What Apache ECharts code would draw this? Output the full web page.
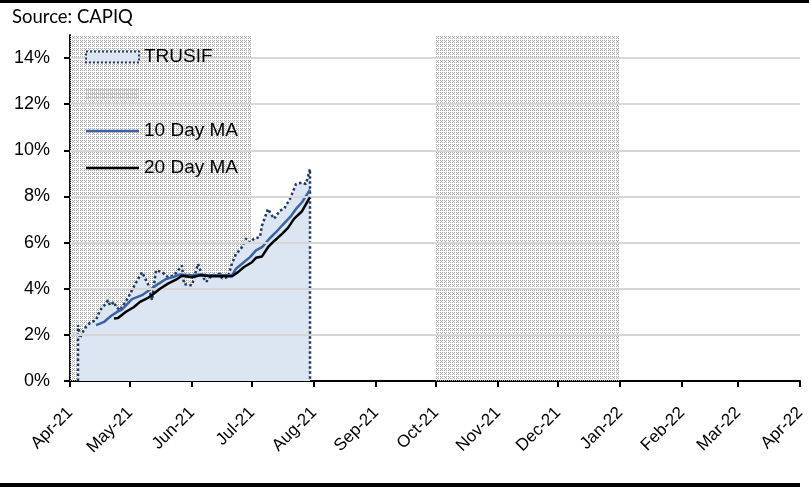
<!DOCTYPE html>
<html>
<head>
<meta charset="utf-8">
<script src="https://cdn.jsdelivr.net/npm/echarts@6/dist/echarts.min.js"></script>
<style>
html,body{margin:0;padding:0;background:#fff;}
#chart{width:809px;height:487px;}
</style>
</head>
<body>
<div id="chart"></div>
<script>
// ---- data ----
const trusifDates = ['2021-04-05','2021-04-06','2021-04-07','2021-04-09','2021-04-11','2021-04-12','2021-04-14','2021-04-16','2021-04-17','2021-04-19','2021-04-20','2021-04-21','2021-04-23','2021-04-24','2021-04-26','2021-04-30','2021-05-03','2021-05-07','2021-05-10','2021-05-12','2021-05-14','2021-05-17','2021-05-20','2021-05-23','2021-05-27','2021-05-28','2021-06-01','2021-06-04','2021-06-06','2021-06-08','2021-06-11','2021-06-15','2021-06-16','2021-06-19','2021-06-21','2021-06-23','2021-06-26','2021-06-28','2021-06-30','2021-07-02','2021-07-05','2021-07-06','2021-07-09','2021-07-12','2021-07-15','2021-07-17','2021-07-20','2021-07-23','2021-07-26','2021-07-28','2021-07-30'];
const trusifValues = [2.42,1.86,2.07,2.35,2.52,2.50,2.64,3.07,3.15,3.36,3.50,3.28,3.43,3.21,3.07,3.60,4.10,4.72,4.20,3.50,4.80,4.72,4.50,4.58,5.00,4.20,4.15,5.08,4.58,4.29,4.58,4.65,4.45,4.50,5.10,5.50,5.80,6.17,6.00,6.17,6.24,6.74,7.46,7.03,7.39,7.46,7.90,8.54,8.60,8.54,9.19];

const ma10Dates = ['2021-04-14','2021-04-16','2021-04-18','2021-04-20','2021-04-22','2021-04-23','2021-04-25','2021-04-27','2021-04-29','2021-05-02','2021-05-07','2021-05-10','2021-05-13','2021-05-15','2021-05-16','2021-05-19','2021-05-23','2021-05-26','2021-06-01','2021-06-05','2021-06-09','2021-06-13','2021-06-17','2021-06-21','2021-06-23','2021-06-26','2021-06-30','2021-07-03','2021-07-06','2021-07-10','2021-07-13','2021-07-16','2021-07-20','2021-07-23','2021-07-26','2021-07-30'];
const ma10Values = [2.42,2.49,2.56,2.71,2.85,2.92,3.02,3.10,3.28,3.55,3.72,3.90,4.07,4.20,4.25,4.42,4.52,4.62,4.58,4.62,4.58,4.58,4.58,4.58,4.87,5.08,5.37,5.66,5.80,6.20,6.45,6.74,7.10,7.46,7.75,8.30];

const ma20Dates = ['2021-04-23','2021-04-25','2021-04-26','2021-04-29','2021-05-03','2021-05-06','2021-05-10','2021-05-13','2021-05-16','2021-05-20','2021-05-24','2021-05-27','2021-06-01','2021-06-05','2021-06-10','2021-06-15','2021-06-21','2021-06-24','2021-06-27','2021-07-01','2021-07-03','2021-07-06','2021-07-09','2021-07-12','2021-07-16','2021-07-19','2021-07-22','2021-07-26','2021-07-30'];
const ma20Values = [2.71,2.73,2.78,3.00,3.21,3.43,3.60,3.79,4.00,4.22,4.39,4.56,4.50,4.58,4.54,4.54,4.54,4.72,4.94,5.15,5.34,5.40,5.80,6.06,6.38,6.64,7.03,7.36,7.97];

const tickDates = ['2021-04-01','2021-05-01','2021-06-01','2021-07-01','2021-08-01','2021-09-01','2021-10-01','2021-11-01','2021-12-01','2022-01-01','2022-02-01','2022-03-01','2022-04-01'];
const tickLabels = ['Apr-21','May-21','Jun-21','Jul-21','Aug-21','Sep-21','Oct-21','Nov-21','Dec-21','Jan-22','Feb-22','Mar-22','Apr-22'];
const yTicks = [0,2,4,6,8,10,12,14];

const shadeStarts = ['2021-04-01','2021-10-01'];
const shadeEnds = ['2021-07-01','2022-01-01'];

// ---- build ----
const t = s => Date.UTC(+s.slice(0,4), +s.slice(5,7) - 1, +s.slice(8,10));
const tickTimes = tickDates.map(t);

const pc = document.createElement('canvas');
pc.width = 4; pc.height = 4;
const pctx = pc.getContext('2d');
pctx.fillStyle = '#aaaaaa';
[[0,0],[2,0],[1,1],[0,2],[2,2]].forEach(p => pctx.fillRect(p[0], p[1], 1, 1));
const pattern = { image: pc, repeat: 'repeat' };

const trusifData = [[t(trusifDates[0]), 0]].concat(trusifDates.map((d,i)=>[t(d), trusifValues[i]])).concat([[t(trusifDates[trusifDates.length-1]), 0]]);
const ma10Data = ma10Dates.map((d,i)=>[t(d), ma10Values[i]]);
const ma20Data = ma20Dates.map((d,i)=>[t(d), ma20Values[i]]);

const FONT = "'Liberation Sans', Arial, sans-serif";
const LINE_ICON = 'path://M0,0L106,0L106,5L0,5Z';
const chart = echarts.init(document.getElementById('chart'), null, {renderer:'canvas'});
chart.setOption({
  animation: false,
  backgroundColor: '#fff',
  grid: { left: 70, right: 9, top: 35, bottom: 106, containLabel: false },
  xAxis: {
    type: 'value',
    min: tickTimes[0],
    max: tickTimes[tickTimes.length-1],
    axisLine: { show: true, onZero: false, lineStyle: { color: '#000', width: 2 } },
    axisTick: { show: true, length: 6, lineStyle: { color: '#000', width: 2 }, customValues: tickTimes },
    axisLabel: {
      customValues: tickTimes,
      rotate: 45,
      margin: 29,
      fontSize: 17,
      fontFamily: FONT,
      color: '#000',
      formatter: function (v) {
        const i = tickTimes.indexOf(v);
        return i >= 0 ? tickLabels[i] : '';
      }
    },
    splitLine: { show: false }
  },
  yAxis: {
    type: 'value',
    min: 0,
    max: 15,
    interval: 1,
    axisLine: { show: true, lineStyle: { color: '#000', width: 2 } },
    axisTick: { show: true, length: 6, lineStyle: { color: '#000', width: 2 }, customValues: yTicks },
    axisLabel: {
      customValues: yTicks,
      margin: 20,
      fontSize: 18,
      fontFamily: FONT,
      color: '#000',
      formatter: v => v + '%'
    },
    splitLine: { show: false }
  },
  legend: {
    orient: 'vertical',
    left: 85,
    top: 47,
    z: 20,
    padding: 0,
    itemWidth: 53,
    itemHeight: 11,
    itemGap: 17,
    symbolKeepAspect: true,
    selectedMode: false,
    textStyle: { fontSize: 19, lineHeight: 20, fontFamily: FONT, color: '#000' },
    formatter: name => name === 'Shade' ? ' ' : name,
    data: [
      { name: 'TRUSIF', icon: 'rect', itemStyle: { color: '#dce6f2', borderColor: '#1f3864', borderWidth: 2, borderType: 'dotted' } },
      { name: 'Shade', icon: 'rect', itemStyle: { color: pattern, borderWidth: 0 } },
      { name: '10 Day MA', icon: LINE_ICON, itemStyle: { color: '#3a62a7', borderWidth: 0 } },
      { name: '20 Day MA', icon: LINE_ICON, itemStyle: { color: '#000', borderWidth: 0 } }
    ]
  },
  series: [
    {
      name: 'TRUSIF', type: 'line', z: 1, symbol: 'none', silent: true,
      data: trusifData,
      lineStyle: { width: 0, opacity: 0 },
      itemStyle: { color: '#dce6f2' },
      areaStyle: { color: '#dce6f2', opacity: 1 }
    },
    {
      name: 'Shade', type: 'line', z: 2, symbol: 'none', silent: true,
      data: [],
      itemStyle: { color: '#bdbdbd' },
      markArea: {
        silent: true,
        itemStyle: { color: pattern },
        data: shadeStarts.map((s,i)=>[{ xAxis: t(s) }, { xAxis: t(shadeEnds[i]) }])
      },
      markLine: {
        silent: true, symbol: 'none', label: { show: false },
        lineStyle: { color: '#d6d6d6', width: 2, type: 'solid' },
        data: yTicks.filter(v => v > 0).map(v => ({ yAxis: v }))
      }
    },
    {
      name: 'TRUSIF', type: 'line', z: 3, symbol: 'none', silent: true,
      data: trusifData,
      itemStyle: { color: '#1f3864' },
      lineStyle: { color: '#1f3864', width: 2.5, type: [2.5, 2.5] }
    },
    {
      name: '10 Day MA', type: 'line', z: 4, symbol: 'none', silent: true,
      data: ma10Data,
      itemStyle: { color: '#3a62a7' },
      lineStyle: { color: '#3a62a7', width: 2.5 }
    },
    {
      name: '20 Day MA', type: 'line', z: 5, symbol: 'none', silent: true,
      data: ma20Data,
      itemStyle: { color: '#000' },
      lineStyle: { color: '#000', width: 2.5 }
    }
  ],
  graphic: [
    { type: 'rect', left: 0, top: 0, shape: { width: 809, height: 3 }, style: { fill: '#000' }, silent: true },
    { type: 'rect', left: 0, top: 483, shape: { width: 800, height: 4 }, style: { fill: '#000' }, silent: true },
    { type: 'text', left: 12, top: 8, style: { text: 'Source: CAPIQ', font: "18.5px Lato, 'Open Sans', sans-serif", fill: '#000' }, silent: true }
  ]
});
</script>
</body>
</html>
